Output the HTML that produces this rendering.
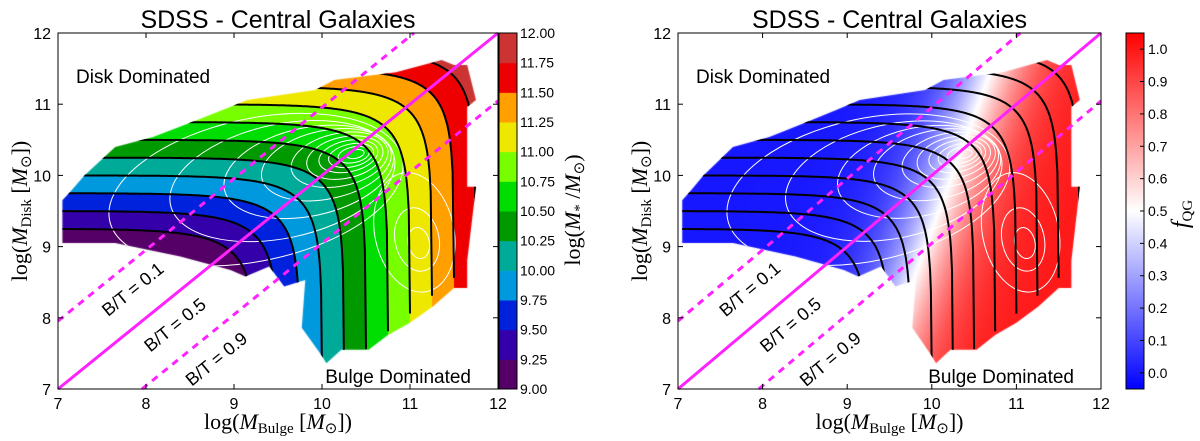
<!DOCTYPE html>
<html><head><meta charset="utf-8">
<style>
html,body{margin:0;padding:0;background:#fff;width:1200px;height:441px;overflow:hidden;}
#wrap{position:relative;width:1200px;height:441px;overflow:hidden;font-family:"Liberation Sans",sans-serif;}
canvas,svg{position:absolute;left:0;top:0;}
</style></head>
<body>
<div id="wrap">
<canvas id="cv" width="1200" height="441"></canvas>
<svg id="sv" width="1200" height="441" xmlns="http://www.w3.org/2000/svg" style="overflow:hidden"></svg>
</div>
<script>
// ---- data ----
const massLevels = [9.25, 9.5, 9.75, 10.0, 10.25, 10.5, 10.75, 11.0, 11.25, 11.5, 11.75];
const bandEdges = [9.0, 9.25, 9.5, 9.75, 10.0, 10.25, 10.5, 10.75, 11.0, 11.25, 11.5, 11.75, 12.0];
const bandColors = ["#550066","#3300aa","#0022dd","#0099dd","#00aa99","#009a00","#00dd00","#77ff00","#eee800","#ff9f00","#ee0000","#cc3333"];
const massTickLabels = ["9.00","9.25","9.50","9.75","10.00","10.25","10.50","10.75","11.00","11.25","11.50","11.75","12.00"];
const fqTicks = [0.0, 0.1, 0.2, 0.3, 0.4, 0.5, 0.6, 0.7, 0.8, 0.9, 1.0];
const fqTickLabels = ["0.0","0.1","0.2","0.3","0.4","0.5","0.6","0.7","0.8","0.9","1.0"];
const axisTicks = [7, 8, 9, 10, 11, 12];
const axisTickLabels = ["7", "8", "9", "10", "11", "12"];
const btRatios = [0.1, 0.5, 0.9];
const btLabels = ["B/T = 0.1", "B/T = 0.5", "B/T = 0.9"];
const btLabelBulge = [7.85, 8.33, 8.8];
const btLabelDisk = [8.4, 7.9, 7.42];
// occupied region outline (bulge, disk)
const regionBulge = [7.05,7.05,7.14,7.3,7.65,8.08,8.48,8.87,9.15,9.92,10.14,10.84,11.36,11.5,11.65,11.75,11.65,11.65,11.75,11.65,11.65,11.5,11.26,11.0,10.75,10.53,10.22,10.05,9.98,9.77,9.81,9.57,9.4,9.13,8.96,8.39,7.65];
const regionDisk  = [9.05,9.65,9.77,10.0,10.4,10.54,10.73,10.92,11.06,11.2,11.34,11.45,11.62,11.55,11.55,11.06,10.96,9.84,9.84,8.8,8.42,8.42,8.16,7.93,7.76,7.55,7.55,7.36,7.5,7.86,8.53,8.44,8.72,8.58,8.67,8.86,9.05];
// density contours (centre bulge, centre disk, radius b, radius d)
const densCB = [10.38,10.36,10.33,10.3,10.26,10.2,10.05,9.85,9.55,9.25, 11.1,11.08,11.05];
const densCD = [10.3,10.29,10.28,10.27,10.25,10.22,10.15,10.05,9.92,9.8, 9.05,9.1,9.2];
const densRB = [0.1,0.18,0.26,0.34,0.44,0.56,0.75,0.98,1.3,1.7, 0.12,0.25,0.45];
const densRD = [0.06,0.11,0.16,0.22,0.29,0.37,0.48,0.62,0.8,1.0, 0.22,0.45,0.85];

// ---- geometry ----
const TOP = 33, BOT = 389;
const panels = [
  {name:"mass", x0:58, x1:498, cb:[499,517], title:"SDSS - Central Galaxies"},
  {name:"fqg",  x0:678, x1:1101, cb:[1126,1144], title:"SDSS - Central Galaxies"}
];
const NS = "http://www.w3.org/2000/svg";
const svg = document.getElementById('sv');
const ctx = document.getElementById('cv').getContext('2d');
function el(tag, attrs, parent) {
  const e = document.createElementNS(NS, tag);
  for (const k in attrs) e.setAttribute(k, attrs[k]);
  (parent || svg).appendChild(e);
  return e;
}
function sxF(p){ return b => p.x0 + (b - 7) / 5 * (p.x1 - p.x0); }
const sy = d => BOT - (d - 7) / 5 * (BOT - TOP);
function totalMass(b, d){ return Math.log10(Math.pow(10,b) + Math.pow(10,d)); }
function fqg(b, d){ const z = 2.2*(b-10.35) + 1.0*(b-d); return 1/(1+Math.exp(-z)); }
function bwr(f){
  let t = Math.max(0, Math.min(1, (f + 0.05) / 1.1));
  if (t < 0.5) { const u = t/0.5; return [Math.round(u*255), Math.round(u*255), 255]; }
  const u = (t-0.5)/0.5; return [255, Math.round((1-u)*255), Math.round((1-u)*255)];
}
function hexRgb(h){ return [parseInt(h.slice(1,3),16),parseInt(h.slice(3,5),16),parseInt(h.slice(5,7),16)]; }
function regionPath(p){
  const sx = sxF(p);
  let s = "";
  for (let i=0;i<regionBulge.length;i++) s += (i?"L":"M") + sx(regionBulge[i]).toFixed(1) + "," + sy(regionDisk[i]).toFixed(1);
  return s + "Z";
}

panels.forEach((p, pi) => {
  const sx = sxF(p);
  const W = p.x1 - p.x0, H = BOT - TOP;
  const off = document.createElement('canvas'); off.width = W; off.height = H;
  const octx = off.getContext('2d'); const img = octx.createImageData(W, H);
  for (let j=0;j<H;j++) for (let i=0;i<W;i++){
    const b = 7 + (i+0.5)/W*5, d = 7 + (H-j-0.5)/H*5;
    let c;
    if (pi===0){ const m = totalMass(b,d); let k = Math.floor((m-9)/0.25); k = Math.max(0, Math.min(11,k)); c = hexRgb(bandColors[k]); }
    else c = bwr(fqg(b,d));
    const o = (j*W+i)*4; img.data[o]=c[0]; img.data[o+1]=c[1]; img.data[o+2]=c[2]; img.data[o+3]=255;
  }
  octx.putImageData(img,0,0);
  ctx.save();
  ctx.beginPath();
  for (let i=0;i<regionBulge.length;i++){ const X=sx(regionBulge[i]), Y=sy(regionDisk[i]); i?ctx.lineTo(X,Y):ctx.moveTo(X,Y); }
  ctx.closePath(); ctx.clip();
  ctx.drawImage(off, p.x0, TOP);
  ctx.restore();

  const clipId = "clip"+pi;
  const defs = el('defs', {});
  const cp = el('clipPath', {id: clipId}, defs);
  el('path', {d: regionPath(p)}, cp);

  const dg = el('g', {'clip-path':`url(#${clipId})`, fill:'none', stroke:'#fff', 'stroke-width':1});
  
  
  for (let k=0;k<densCB.length;k++){
    const e = el('ellipse', {cx: sx(densCB[k]), cy: sy(densCD[k]), rx: densRB[k]/5*W, ry: densRD[k]/5*H, transform:`rotate(-12 ${sx(densCB[k])} ${sy(densCD[k])})`}, dg);
    
    
  }
  const mg = el('g', {'clip-path':`url(#${clipId})`, fill:'none', stroke:'#000', 'stroke-width':2});
  
  
  massLevels.forEach(M => {
    let s = "";
    for (let t=0;t<=300;t++){
      const b = 7 + (M - 0.0005 - 7) * t/300;
      const d = Math.log10(Math.pow(10,M) - Math.pow(10,b));
      s += (t?"L":"M") + sx(b).toFixed(1) + "," + sy(Math.max(d,7.2)).toFixed(1);
    }
    const pa = el('path', {d:s}, mg);
    
    
  });
  const lg = el('g', {stroke:'#ff22ff', 'stroke-width':3, fill:'none'});
  
  
  btRatios.forEach((r, k) => {
    const o = Math.log10((1-r)/r);
    const bA = Math.max(7, 7 - o), bB = Math.min(12, 12 - o);
    const ln = el('line', {x1:sx(bA), y1:sy(bA+o), x2:sx(bB), y2:sy(bB+o)}, lg);
    if (r !== 0.5) ln.setAttribute('stroke-dasharray','7,6');
    
    
  });
  const ang = -Math.atan(H/W)*180/Math.PI;
  btLabels.forEach((t,k) => {
    const X = sx(btLabelBulge[k]), Y = sy(btLabelDisk[k]) + 6;
    const tx = el('text', {x:X, y:Y, 'font-size':18, 'text-anchor':'middle', transform:`rotate(${ang} ${X} ${Y-6})`});
    tx.textContent = t;
    
    
  });
  const t1 = el('text', {x:p.x0+18, y:83, 'font-size':19}); t1.textContent = "Disk Dominated";
  
  
  const t2 = el('text', {x:p.x1-27, y:383, 'font-size':19, 'text-anchor':'end'}); t2.textContent = "Bulge Dominated";
  
  
  const fr = el('rect', {x:p.x0, y:TOP, width:W, height:H, fill:'none', stroke:'#000', 'stroke-width':1});
  
  
  axisTicks.forEach((v,k) => {
    const X = sx(v), Y = sy(v);
    el('line', {x1:X, y1:BOT, x2:X, y2:BOT-5, stroke:'#000'});
    el('line', {x1:X, y1:TOP, x2:X, y2:TOP+5, stroke:'#000'});
    el('line', {x1:p.x0, y1:Y, x2:p.x0+5, y2:Y, stroke:'#000'});
    el('line', {x1:p.x1, y1:Y, x2:p.x1-5, y2:Y, stroke:'#000'});
    const xt = el('text', {x:X, y:BOT+20, 'font-size':16, 'text-anchor':'middle'}); xt.textContent = axisTickLabels[k];
    
    
    const yt = el('text', {x:p.x0-7, y:Y+6, 'font-size':16, 'text-anchor':'end'}); yt.textContent = axisTickLabels[k];
    
    
  });
  const ti = el('text', {x:(p.x0+p.x1)/2, y:28, 'font-size':25, 'text-anchor':'middle'}); ti.textContent = p.title;
  
  
  const xa = el('text', {x:(p.x0+p.x1)/2, y:429, 'font-size':22, 'text-anchor':'middle', 'font-family':'Liberation Serif, serif'});
  xa.innerHTML = 'log(<tspan font-style="italic">M</tspan><tspan font-size="15" dy="4">Bulge</tspan><tspan dy="-4"> [</tspan><tspan font-style="italic">M</tspan><tspan font-size="15" dy="4">⊙</tspan><tspan dy="-4">])</tspan>';
  
  
  const yx = p.x0 - 31, yy = (TOP+BOT)/2;
  const ya = el('text', {x:yx, y:yy, 'font-size':22, 'text-anchor':'middle', 'font-family':'Liberation Serif, serif', transform:`rotate(-90 ${yx} ${yy})`});
  ya.innerHTML = 'log(<tspan font-style="italic">M</tspan><tspan font-size="15" dy="4">Disk</tspan><tspan dy="-4"> [</tspan><tspan font-style="italic">M</tspan><tspan font-size="15" dy="4">⊙</tspan><tspan dy="-4">])</tspan>';
  
  

  const [c0, c1] = p.cb;
  const cbg = el('g', {});
  
  
  if (pi === 0){
    const cy = v => BOT - (v-9)/3*(BOT-TOP);
    bandColors.forEach((c,k) => {
      const r = el('rect', {x:c0, y:cy(bandEdges[k+1]), width:c1-c0, height:cy(bandEdges[k])-cy(bandEdges[k+1])+0.5, fill:c}, cbg);
      
      
    });
    massTickLabels.forEach((t,k) => {
      const tt = el('text', {x:c1+3, y:cy(bandEdges[k])+5, 'font-size':14}, cbg); tt.textContent = t;
      
      
    });
    const lx = 580, ly = 210;
    const lab = el('text', {x:lx, y:ly, 'font-size':22, 'text-anchor':'middle', 'font-family':'Liberation Serif, serif', transform:`rotate(-90 ${lx} ${ly})`}, cbg);
    lab.innerHTML = 'log(<tspan font-style="italic">M</tspan><tspan font-size="15" dy="4">*</tspan><tspan dy="-4"> /</tspan><tspan font-style="italic">M</tspan><tspan font-size="15" dy="4">⊙</tspan><tspan dy="-4">)</tspan>';
    
    
  } else {
    const cy = v => BOT - (v+0.05)/1.1*(BOT-TOP);
    const gr = el('linearGradient', {id:'bwrg', x1:0, y1:1, x2:0, y2:0}, defs);
    el('stop', {offset:'0', 'stop-color':'#0000ff'}, gr);
    el('stop', {offset:'0.5', 'stop-color':'#ffffff'}, gr);
    el('stop', {offset:'1', 'stop-color':'#ff0000'}, gr);
    const r = el('rect', {x:c0, y:TOP, width:c1-c0, height:BOT-TOP, fill:'url(#bwrg)'}, cbg);
    
    
    fqTicks.forEach((v,k) => {
      el('line', {x1:c1, y1:cy(v), x2:c1-4, y2:cy(v), stroke:'#000'}, cbg);
      const tt = el('text', {x:c1+4, y:cy(v)+5, 'font-size':14}, cbg); tt.textContent = fqTickLabels[k];
      
      
    });
    const lx = 1188, ly = 214;
    const lab = el('text', {x:lx, y:ly, 'font-size':24, 'text-anchor':'middle', 'font-family':'Liberation Serif, serif', transform:`rotate(-90 ${lx} ${ly})`}, cbg);
    lab.innerHTML = '<tspan font-style="italic">f</tspan><tspan font-size="15" dy="4">QG</tspan>';
    
    
  }
  el('rect', {x:c0, y:TOP, width:c1-c0, height:BOT-TOP, fill:'none', stroke:'#000'}, cbg);
});
</script>
</body></html>
